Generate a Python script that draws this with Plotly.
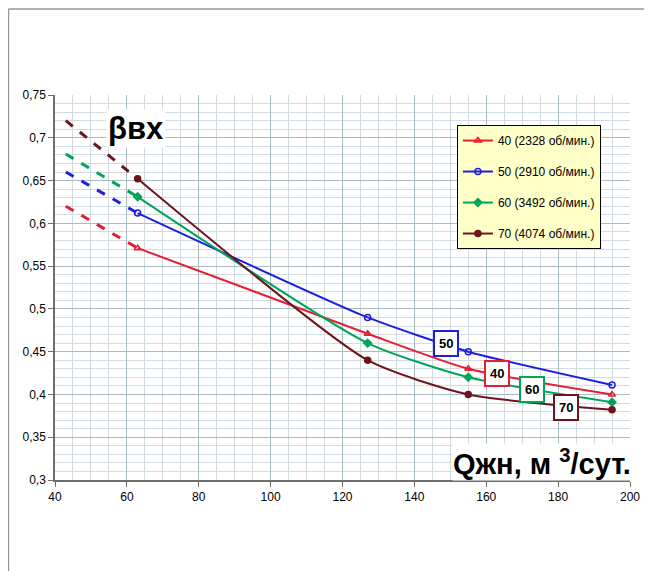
import plotly.graph_objects as go

# Data
q_dash = [43, 63]
q_solid = [63, 127, 155, 195]

labels = ["40 (2328 об/мин.)", "50 (2910 об/мин.)", "60 (3492 об/мин.)", "70 (4074 об/мин.)"]
short = ["40", "50", "60", "70"]

b40_dash = [0.62, 0.571]
b40 = [0.571, 0.471, 0.43, 0.40]
b50_dash = [0.66, 0.612]
b50 = [0.612, 0.49, 0.45, 0.411]
b60_dash = [0.681, 0.631]
b60 = [0.631, 0.46, 0.42, 0.391]
b70_dash = [0.72, 0.652]
b70 = [0.652, 0.44, 0.40, 0.382]

tag_x = [163.0, 148.8, 172.7, 182.2]
tag_y = [0.425, 0.460, 0.406, 0.385]

colors = ["rgb(230,30,50)", "rgb(30,30,225)", "rgb(0,165,90)", "rgb(110,20,30)"]
symbols = ["triangle-up-open", "circle-open", "diamond", "circle"]

dash_series = [b40_dash, b50_dash, b60_dash, b70_dash]
solid_series = [b40, b50, b60, b70]

FONT = "Liberation Sans, Arial"

fig = go.Figure()
for i in range(4):
    fig.add_trace(go.Scatter(
        x=q_dash, y=dash_series[i], mode="lines",
        line=dict(color=colors[i], width=3, dash="dash"),
        showlegend=False, hoverinfo="skip"))
for i in range(4):
    fig.add_trace(go.Scatter(
        x=q_solid, y=solid_series[i], mode="lines+markers",
        name=labels[i], legendgroup=f"g{i}",
        line=dict(color=colors[i], width=2, shape="spline", smoothing=0.6),
        marker=dict(symbol=symbols[i], size=6, color=colors[i],
                    line=dict(color=colors[i], width=1.5))))

for i in range(4):
    fig.add_annotation(
        x=tag_x[i], y=tag_y[i], text=f"<b>{short[i]}</b>", showarrow=False,
        font=dict(family=FONT, size=13, color="black"),
        bgcolor="white", bordercolor=colors[i], borderwidth=2, borderpad=4)

fig.add_annotation(x=62.5, y=0.711, text="<b>βвх</b>", showarrow=False,
                   font=dict(family=FONT, size=31, color="black"),
                   bgcolor="white")
fig.add_annotation(xref="paper", x=1.004, y=0.321, xanchor="right",
                   text="<b>Qжн, м <sup>3</sup>/сут.</b>",
                   showarrow=False,
                   font=dict(family=FONT, size=29, color="black"),
                   bgcolor="white", borderpad=0)

# frame lines of the picture
fig.add_shape(type="line", xref="paper", yref="paper", x0=-0.0809, x1=1.05, y0=1.2234, y1=1.2234,
              line=dict(color="rgb(150,150,150)", width=1.5))
fig.add_shape(type="line", xref="paper", yref="paper", x0=-0.0809, x1=-0.0809, y0=1.2234, y1=-0.25,
              line=dict(color="rgb(150,150,150)", width=1.5))

fig.update_xaxes(
    range=[40, 200], dtick=20, tick0=40,
    showgrid=True, gridcolor="rgb(170,188,195)", gridwidth=1,
    minor=dict(dtick=5, showgrid=True, gridcolor="rgb(208,220,225)", gridwidth=1),
    showline=True, linecolor="rgb(110,110,110)", linewidth=1.5,
    ticks="outside", ticklen=5, tickcolor="rgb(110,110,110)",
    tickfont=dict(family=FONT, size=12, color="black"),
    zeroline=False)
fig.update_yaxes(
    range=[0.3, 0.75], dtick=0.05, tick0=0.3,
    showgrid=True, gridcolor="rgb(170,188,195)", gridwidth=1,
    minor=dict(dtick=0.01, showgrid=True, gridcolor="rgb(208,220,225)", gridwidth=1),
    showline=True, linecolor="rgb(110,110,110)", linewidth=1.5,
    ticks="outside", ticklen=5, tickcolor="rgb(110,110,110)",
    tickfont=dict(family=FONT, size=12, color="black"),
    zeroline=False)

fig.update_layout(
    width=644, height=563,
    margin=dict(l=47, r=22, t=87, b=91),
    paper_bgcolor="white", plot_bgcolor="white",
    separators=", ",
    legend=dict(x=0.699, y=0.922, xanchor="left", yanchor="top",
                bgcolor="rgb(255,255,200)", bordercolor="black", borderwidth=1,
                font=dict(family=FONT, size=12, color="black"),
                tracegroupgap=12, itemwidth=30),
)

fig.write_html("out.html")
